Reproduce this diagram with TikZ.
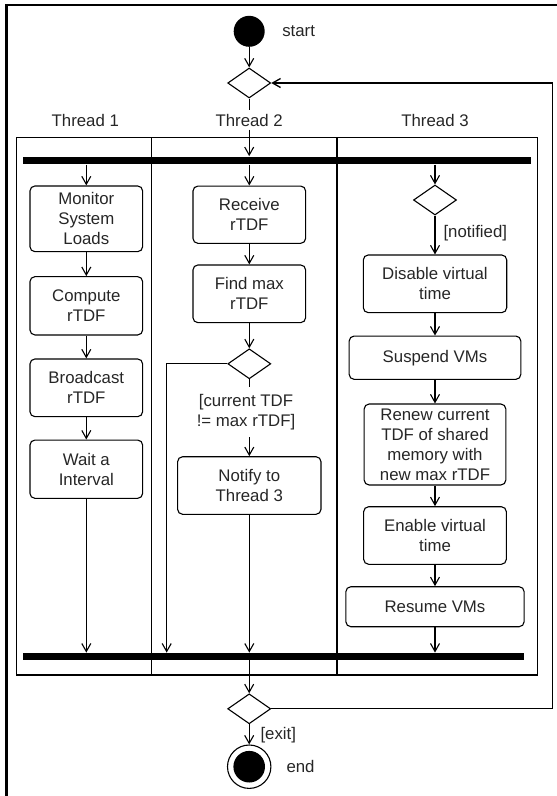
\documentclass[tikz,border=0pt]{standalone}
\usepackage{fontspec}
\setmainfont{Liberation Sans}
\usetikzlibrary{shapes.geometric,arrows.meta}
\begin{document}
\begin{tikzpicture}[x=1pt,y=-1pt,
  line width=1.1pt,
  font=\fontsize{16.8}{20}\selectfont,
  text=black!85,
  arr/.style={-{Straight Barb[length=8pt,width=9pt]}},
  act/.style={draw, rounded corners=5pt, align=center, inner sep=0pt},
  dec/.style={draw, diamond, inner sep=0pt, minimum width=43pt, minimum height=30pt},
  bar/.style={fill=black, inner sep=0pt, rectangle},
  lab/.style={inner sep=0pt, align=center}
]
\useasboundingbox (0,0) rectangle (557,796);
% outer frame
\draw[line width=2.5pt] (6.7,796) -- (6.7,5) -- (557,5);

% start
\node[circle, fill=black, minimum size=31pt, inner sep=0pt] (start) at (249.2,31.3) {};
\node[lab, anchor=west] (startlab) at (281.7,31.5) {start};
\node[dec] (d1) at (249.2,83) {};
\draw[arr] (start) -- (d1);

% lane titles
\node[lab] (t1) at (85.3,120) {Thread 1};
\node[lab, inner ysep=3pt] (t2) at (249.2,120) {Thread 2};
\node[lab] (t3) at (435,120) {Thread 3};

% swimlanes
\node[draw, rectangle, inner sep=0pt, minimum width=520.6pt, minimum height=537.3pt] (lanes) at (277,406.35) {};
\draw (151.7,137.7) -- (151.7,675);
\draw (337,137.7) -- (337,675);

% bars
\node[bar, minimum width=507.5pt, minimum height=7.3pt] (fork) at (276.75,160.35) {};
\node[bar, minimum width=501.6pt, minimum height=6.7pt] (join) at (273.5,656.5) {};

\draw (d1.south) -- (t2.north);
\draw[arr] (t2.south) -- (t2.south |- fork.north);

% Thread 1
\node[act, minimum width=112.7pt, minimum height=65.7pt] (m1) at (86.3,218.8) {Monitor\\System\\Loads};
\node[act, minimum width=112.7pt, minimum height=58.3pt] (m2) at (86.3,305.8) {Compute\\rTDF};
\node[act, minimum width=112.7pt, minimum height=57.7pt] (m3) at (86.3,387.8) {Broadcast\\rTDF};
\node[act, minimum width=112.7pt, minimum height=58.3pt] (m4) at (86.3,469.2) {Wait a\\Interval};
\draw[arr] (fork.south -| m1.north) -- (m1.north);
\draw[arr] (m1) -- (m2);
\draw[arr] (m2) -- (m3);
\draw[arr] (m3) -- (m4);
\draw[arr] (m4) -- (m4.south |- join.north);

% Thread 2
\node[act, minimum width=112.7pt, minimum height=57.3pt] (r1) at (249.3,214.7) {Receive\\rTDF};
\node[act, minimum width=112.7pt, minimum height=57.7pt] (r2) at (249.3,293.8) {Find max\\rTDF};
\node[dec] (d2) at (249.3,363.8) {};
\node[lab, inner ysep=6.5pt] (cond) at (246,412.3) {[current TDF\\!= max rTDF]};
\node[act, minimum width=143.4pt, minimum height=57.6pt] (n1) at (249.3,485.5) {Notify to\\Thread 3};
\coordinate (lft) at (166.7,364);
\draw[arr] (fork.south -| r1.north) -- (r1.north);
\draw[arr] (r1) -- (r2);
\draw[arr] (r2) -- (d2);
\draw (d2.south) -- (d2.south |- cond.north);
\draw[arr] (n1.north |- cond.south) -- (n1.north);
\draw[arr] (n1) -- (n1.south |- join.north);
\draw[arr] (d2.west) -- (d2.west -| lft) -- (lft |- join.north);

% Thread 3
\node[dec] (d3) at (435,200) {};
\node[lab, anchor=west] (notif) at (443,233) {[notified]};
\node[act, minimum width=143.4pt, minimum height=57.7pt] (e1) at (435,283.8) {Disable virtual\\time};
\node[act, minimum width=171.7pt, minimum height=43.3pt] (e2) at (435,357.7) {Suspend VMs};
\node[act, minimum width=141.7pt, minimum height=81pt] (e3) at (435,444.5) {Renew current\\TDF of shared\\memory with\\new max rTDF};
\node[act, minimum width=142.7pt, minimum height=57.6pt] (e4) at (435,535.5) {Enable virtual\\time};
\node[act, minimum width=178.3pt, minimum height=40pt] (e5) at (435,606.7) {Resume VMs};
\draw[arr] (fork.south -| d3.north) -- (d3.north);
\draw[arr] (d3) -- (e1);
\draw[arr] (e1) -- (e2);
\draw[arr] (e2) -- (e3);
\draw[arr] (e3) -- (e4);
\draw[arr] (e4) -- (e5);
\draw[arr] (e5) -- (e5.south |- join.north);

% bottom
\node[dec] (d4) at (249.2,708.8) {};
\draw[arr] (join.south -| d4.north) -- (d4.north);
\node[circle, draw, minimum size=43.4pt, inner sep=0pt,
  path picture={\fill[black] (path picture bounding box.center) circle[radius=15.8pt];}] (end) at (249.2,766.7) {};
\draw[arr] (d4) -- (end);
\node[lab, anchor=west] (exitlab) at (260,735) {[exit]};
\node[lab, anchor=west] (endlab) at (286,766.7) {end};
\coordinate (rt) at (552.7,0);
\draw[arr, line width=1.3pt] (d4.east) -- (d4.east -| rt) -- (d1.east -| rt) -- (d1.east);
\end{tikzpicture}
\end{document}
